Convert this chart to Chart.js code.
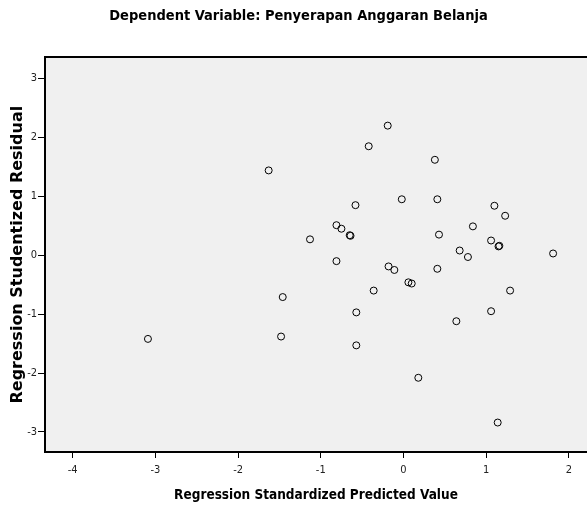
<!DOCTYPE html>
<html>
<head>
<meta charset="utf-8">
<script src="https://cdn.jsdelivr.net/npm/chart.js@4"></script>
<style>
  html, body { margin: 0; padding: 0; background: #fff; overflow: hidden; }
  canvas { display: block; }
</style>
</head>
<body>
<canvas id="grafico" width="587" height="505"></canvas>
<script>
// Datos
const predicted = [-1.63, -0.19, -0.42, 0.38, -0.02, 0.41, -0.58, 1.10, 1.23, -0.81,
    -0.75, -0.65, -0.64, 0.84, 0.43, -1.13, 1.06, 1.15, 1.16, 0.68,
    0.78, 1.81, -0.81, -0.18, -0.11, 0.41, 0.06, 0.10, -0.36, 1.29,
    -0.57, 1.06, 0.64, -0.57, 0.18, 1.14, -1.46, -1.48, -3.09];
const residual = [1.44, 2.20, 1.85, 1.62, 0.95, 0.95, 0.85, 0.84, 0.67, 0.51,
    0.45, 0.34, 0.33, 0.49, 0.35, 0.27, 0.25, 0.15, 0.16, 0.08,
    -0.03, 0.03, -0.10, -0.19, -0.25, -0.23, -0.46, -0.48, -0.60, -0.60,
    -0.97, -0.95, -1.12, -1.53, -2.08, -2.84, -0.71, -1.38, -1.42];
const xTicks = [-4, -3, -2, -1, 0, 1, 2];
const yTicks = [-3, -2, -1, 0, 1, 2, 3];

const narrow = "'Liberation Sans Narrow', 'Arial Narrow', 'DejaVu Sans Condensed', sans-serif";

const puntos = predicted.map((x, i) => ({ x: x, y: residual[i] }));

// fondo gris del área de trazado
const fondo = {
    id: 'fondo',
    beforeDraw(chart) {
        const a = chart.chartArea;
        const ctx = chart.ctx;
        ctx.save();
        ctx.fillStyle = '#f0f0f0';
        ctx.fillRect(a.left, a.top, a.right - a.left, a.bottom - a.top);
        ctx.restore();
    }
};

function sinPadding(s) {
    s.paddingLeft = 0;
    s.paddingRight = 0;
    s.paddingTop = 0;
    s.paddingBottom = 0;
}

new Chart(document.getElementById('grafico'), {
    type: 'scatter',
    data: {
        datasets: [{
            data: puntos,
            pointStyle: 'circle',
            pointRadius: 3.5,
            pointBorderWidth: 1,
            pointBorderColor: '#000',
            pointBackgroundColor: 'rgba(0,0,0,0)'
        }]
    },
    plugins: [fondo],
    options: {
        responsive: false,
        animation: false,
        events: [],
        layout: { autoPadding: false, padding: { left: 10, right: 0, top: 0, bottom: 0 } },
        plugins: {
            legend: { display: false },
            tooltip: { enabled: false },
            title: {
                display: true,
                text: 'Dependent Variable: Penyerapan Anggaran Belanja',
                color: '#000',
                font: { family: narrow, size: 14.5, weight: 'bold', lineHeight: 1.2 },
                padding: { top: 8, bottom: 31.9 }
            }
        },
        scales: {
            x: {
                type: 'linear',
                position: 'bottom',
                min: -4.335,
                max: 2.22,
                afterBuildTicks: s => { s.ticks = xTicks.map(v => ({ value: v })); },
                afterFit: s => { s.height = 53; sinPadding(s); },
                ticks: { color: '#222', font: { family: narrow, size: 11 }, padding: 6 },
                grid: { drawOnChartArea: false, drawTicks: true, tickLength: 6, color: '#000', lineWidth: 1 },
                border: { display: true, color: '#000', width: 2 },
                title: {
                    display: true,
                    text: 'Regression Standardized Predicted Value',
                    color: '#000',
                    font: { family: narrow, size: 13.5, weight: 'bold', lineHeight: 1.2 },
                    padding: { top: 0, bottom: 1 }
                }
            },
            xTop: {
                type: 'linear',
                position: 'top',
                min: -4.335,
                max: 2.22,
                afterFit: s => { s.height = 0; sinPadding(s); },
                ticks: { display: false },
                grid: { display: false },
                border: { display: true, color: '#000', width: 2 }
            },
            y: {
                type: 'linear',
                min: -3.34,
                max: 3.36,
                afterBuildTicks: s => { s.ticks = yTicks.map(v => ({ value: v })); },
                afterFit: s => { s.width = 35; sinPadding(s); },
                ticks: { color: '#222', font: { family: narrow, size: 11 }, padding: 1 },
                grid: { drawOnChartArea: false, drawTicks: true, tickLength: 7, color: '#000', lineWidth: 1 },
                border: { display: true, color: '#000', width: 2 },
                title: {
                    display: true,
                    text: 'Regression Studentized Residual',
                    color: '#000',
                    font: { family: "'DejaVu Sans', sans-serif", size: 16, weight: 'bold', lineHeight: 1 },
                    padding: { top: 0, bottom: 0 }
                }
            }
        }
    }
});
</script>
</body>
</html>
